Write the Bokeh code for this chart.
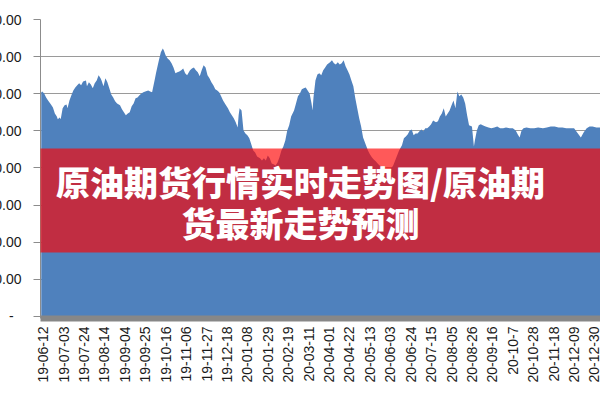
import math
from bokeh.plotting import figure
from bokeh.models import Range1d, FixedTicker, Label, BoxAnnotation
from bokeh.embed import file_html
from bokeh.resources import INLINE

# days since 2019-06-12 and the series value
days = [-2, -1, 1, 3, 5, 8, 10, 12, 14, 15, 17, 18, 20, 22, 24, 25, 27, 29, 31, 33,
        35, 37, 39, 41, 44, 45, 47, 49, 51, 53, 55, 57, 59, 60, 62, 64, 66, 68, 70, 72,
        74, 76, 79, 81, 83, 85, 87, 89, 91, 93, 95, 97, 99, 101, 103, 105, 108, 110, 112, 115,
        116, 118, 119, 121, 123, 124, 126, 128, 130, 132, 134, 136, 138, 140, 142, 144, 146, 148, 151, 153,
        155, 157, 159, 161, 163, 165, 167, 169, 171, 173, 175, 177, 179, 181, 183, 185, 188, 190, 192, 194,
        196, 198, 200, 201, 202, 204, 205, 206, 208, 210, 212, 214, 216, 218, 220, 223, 225, 227, 229, 231,
        233, 235, 237, 239, 241, 243, 245, 247, 249, 251, 253, 255, 258, 260, 262, 264, 266, 268, 270, 272,
        274, 276, 277, 278, 280, 282, 284, 286, 288, 290, 292, 295, 297, 299, 301, 303, 305, 307, 309, 311,
        313, 315, 317, 319, 321, 323, 325, 327, 329, 332, 334, 336, 338, 340, 342, 344, 346, 348, 350, 352,
        354, 356, 358, 360, 362, 364, 366, 369, 371, 373, 375, 377, 379, 381, 383, 385, 387, 389, 391, 393,
        395, 397, 399, 401, 404, 406, 408, 410, 412, 414, 416, 418, 420, 422, 424, 426, 428, 430, 432, 434,
        436, 438, 441, 443, 444, 446, 448, 450, 452, 455, 458, 461, 464, 467, 470, 473, 476, 480, 483, 486,
        488, 490, 492, 494, 497, 501, 505, 509, 514, 518, 522, 526, 530, 534, 538, 542, 546, 549, 553, 556,
        559, 562, 565, 569, 574]
values = [60.4, 60.6, 60.1, 59.0, 58.2, 57.1, 56.3, 54.7, 53.9, 53.1, 53.6, 53.1, 56.1, 56.9, 57.1, 56.1, 58.2, 59.6, 60.9, 61.7,
          62.3, 62.8, 62.3, 63.3, 63.6, 62.0, 63.1, 62.5, 61.5, 62.8, 63.6, 65.0, 64.2, 63.6, 62.0, 64.2, 63.1, 61.5, 59.8, 59.0,
          58.0, 57.4, 56.9, 55.8, 55.0, 54.2, 54.7, 55.0, 56.6, 57.4, 58.8, 59.0, 59.6, 60.1, 60.4, 60.6, 60.9, 60.6, 60.4, 64.2,
          65.5, 67.9, 69.0, 71.2, 72.2, 71.7, 70.3, 69.5, 69.0, 68.2, 67.1, 65.5, 65.8, 66.0, 66.3, 66.8, 65.5, 65.0, 66.3, 66.8,
          67.1, 66.3, 65.8, 64.7, 66.3, 67.7, 67.1, 65.0, 64.2, 63.1, 62.3, 61.2, 60.9, 60.4, 59.3, 58.2, 56.9, 56.1, 55.0, 54.2,
          53.4, 52.3, 50.9, 54.2, 56.1, 55.5, 52.8, 50.1, 49.3, 48.8, 48.0, 46.4, 44.7, 44.2, 43.1, 42.6, 42.0, 42.6, 42.0, 43.4,
          42.6, 41.2, 41.0, 40.7, 41.5, 42.9, 44.7, 45.8, 47.4, 50.1, 51.5, 53.9, 55.5, 57.4, 59.3, 60.1, 61.2, 61.5, 61.7, 60.9,
          60.1, 57.4, 55.5, 59.0, 63.6, 65.2, 65.5, 65.0, 66.3, 67.1, 67.9, 68.5, 69.0, 68.2, 67.9, 68.5, 67.9, 68.2, 69.0, 67.4,
          66.3, 65.2, 63.6, 62.0, 58.8, 56.1, 53.4, 51.2, 48.2, 46.1, 44.7, 43.7, 42.9, 42.3, 41.8, 41.2, 40.7, 40.4, 39.9, 39.4,
          39.1, 39.4, 39.9, 40.7, 42.0, 43.4, 44.7, 46.1, 48.0, 48.5, 49.1, 50.1, 50.4, 48.8, 49.3, 49.3, 49.9, 50.4, 49.9, 50.7,
          50.7, 51.2, 51.8, 52.8, 52.3, 52.6, 53.9, 54.7, 56.1, 53.9, 54.7, 55.5, 56.9, 58.2, 56.1, 60.6, 59.3, 59.8, 59.0, 57.4,
          54.2, 51.5, 51.2, 45.8, 47.4, 50.1, 51.5, 51.8, 51.5, 51.2, 50.9, 50.7, 50.9, 51.2, 50.7, 50.7, 50.9, 50.7, 50.7, 50.1,
          49.1, 48.2, 50.1, 50.7, 50.9, 50.7, 50.7, 50.9, 50.7, 50.9, 51.2, 51.2, 50.9, 50.9, 50.7, 50.7, 50.7, 49.6, 48.2, 49.6,
          50.7, 51.2, 51.2, 50.9, 50.9]

tick_days = [0, 21, 42, 63, 84, 105, 126, 147, 168, 189, 210, 231, 252, 273,
             294, 315, 336, 357, 378, 399, 420, 441, 462, 483, 504, 525, 546, 567]
tick_labels = ["19-06-12", "19-07-03", "19-07-24", "19-08-14", "19-09-04", "19-09-25", "19-10-16",
               "19-11-06", "19-11-27", "19-12-18", "20-01-08", "20-01-29", "20-02-19", "20-03-11",
               "20-04-01", "20-04-22", "20-05-13", "20-06-03", "20-06-24", "20-07-15", "20-08-05",
               "20-08-26", "20-09-16", "20-10-7", "20-10-28", "20-11-18", "20-12-09", "20-12-30"]
y_ticks = [0, 10, 20, 30, 40, 50, 60, 70, 80]
y_tick_labels = ["-\u00a0\u00a0", "10.00", "20.00", "30.00", "40.00", "50.00", "60.00", "70.00", "80.00"]
title_lines = ["原油期货行情实时走势图/原油期", "货最新走势预测"]

GRAY = "#8c8c8c"
CUT = 20  # the picture is a crop: the left 20 px of the chart lie outside the window

p = figure(width=600 + CUT, height=400, output_backend="svg", toolbar_location=None,
           x_range=Range1d(-2.78, 573.2), y_range=Range1d(-0.54, 80),
           min_border_left=40 + CUT, min_border_right=0, min_border_top=19, min_border_bottom=82)
p.styles = {"margin-left": f"-{CUT}px"}
p.background_fill_color = "white"
p.border_fill_color = "white"
p.outline_line_color = None

p.varea(x=days, y1=0, y2=values, fill_color="#4F81BD")

xa = p.xaxis[0]
xa.ticker = FixedTicker(ticks=tick_days)
xa.major_label_overrides = {d: l for d, l in zip(tick_days, tick_labels)}
xa.major_label_orientation = math.pi / 2
xa.axis_line_color = "#878787"
xa.axis_line_width = 6
xa.major_tick_out = 0
xa.major_tick_in = 0
xa.minor_tick_out = 0
xa.minor_tick_in = 0
xa.major_label_standoff = 8
xa.major_label_text_font = "Liberation Sans"
xa.major_label_text_font_size = "14px"
xa.major_label_text_color = "#1a1a1a"

ya = p.yaxis[0]
ya.ticker = FixedTicker(ticks=y_ticks)
ya.major_label_overrides = {v: t for v, t in zip(y_ticks, y_tick_labels)}
ya.axis_line_color = GRAY
ya.major_tick_line_color = GRAY
ya.major_tick_out = 7
ya.major_tick_in = 0
ya.minor_tick_out = 0
ya.minor_tick_in = 0
ya.major_label_standoff = 12
ya.major_label_text_font = "Liberation Sans"
ya.major_label_text_font_size = "14px"
ya.major_label_text_color = "#1a1a1a"

p.xgrid.visible = False
p.ygrid.ticker = FixedTicker(ticks=y_ticks)
p.ygrid.grid_line_color = "#9a9a9a"
p.ygrid.grid_line_width = 1

# chart border lines
p.add_layout(BoxAnnotation(left=-80, right=700, bottom=84.6, top=85.2,
                           fill_color="#a6a6a6", fill_alpha=1, line_color=None))
p.add_layout(BoxAnnotation(left=-80, right=700, bottom=-22.36, top=-21.96,
                           fill_color="#a6a6a6", fill_alpha=1, line_color=None))

# red banner
p.add_layout(BoxAnnotation(left=-80, right=700, bottom=17.24, top=45.26,
                           fill_color="#ff0000", fill_alpha=0.65, line_color=None))
for yv, line in zip([36.37, 25.32], title_lines):
    p.add_layout(Label(x=264.6, y=yv, text=line, text_align="center", text_baseline="middle",
                       text_font="Noto Sans CJK SC Black, Noto Sans CJK SC", text_font_style="bold",
                       text_font_size="34px", text_color="white"))

open("out.html", "w").write(file_html(p, INLINE))
